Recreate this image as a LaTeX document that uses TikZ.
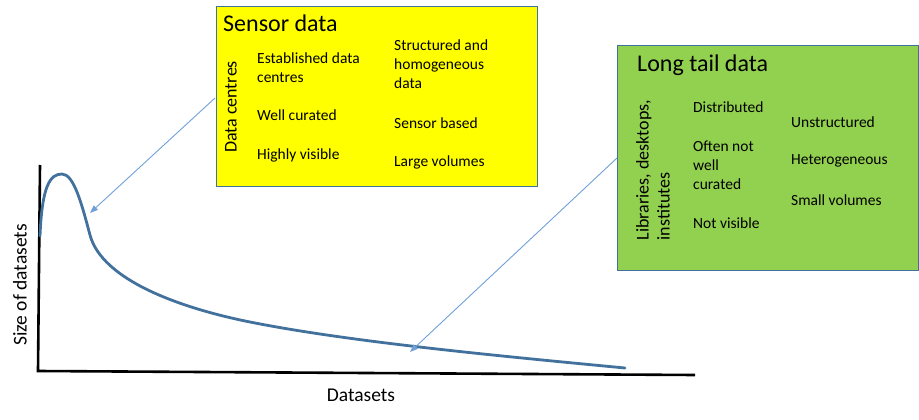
\documentclass[tikz,border=0pt]{standalone}
\usepackage{fontspec}
\setmainfont{Carlito}
\usetikzlibrary{arrows.meta}
\definecolor{boxborder}{HTML}{41719C}
\definecolor{curveblue}{HTML}{41719C}
\definecolor{arrowblue}{HTML}{6FA0D8}
\definecolor{sensoryellow}{HTML}{FFFF00}
\definecolor{tailgreen}{HTML}{92D050}
\tikzset{
  panel/.style={draw=boxborder, line width=1.3pt},
  title/.style={font=\fontsize{24}{28}\selectfont, anchor=west, inner sep=0pt},
  item/.style={font=\fontsize{15.5}{19}\selectfont, anchor=west, align=left, inner sep=0pt},
  side/.style={font=\fontsize{18}{21}\selectfont, rotate=90, align=left, inner sep=0pt},
  axislabel/.style={font=\fontsize{19.5}{23}\selectfont, inner sep=0pt},
  pointer/.style={draw=arrowblue, line width=0.9pt, -{Triangle[length=8pt,width=6pt]}},
  axisline/.style={draw=black, line width=2.6pt},
  curveline/.style={draw=curveblue, line width=2.8pt, line cap=round}
}
\begin{document}
\begin{tikzpicture}[x=1pt, y=-1pt]
\useasboundingbox (0,0) rectangle (919,420);

% axes
\coordinate (ytop) at (40,165);
\coordinate (origin) at (38,371);
\coordinate (xend) at (695,375);
\draw[axisline] (ytop) -- (origin) -- (xend);

% curve
\coordinate (cstart) at (40,236);
\coordinate (cpeak) at (62,174);
\coordinate (cdrop) at (90,235);
\coordinate (cknee) at (250,322);
\coordinate (cend) at (625,368);
\draw[curveline] (cstart) .. controls (42,186) and (50,174) .. (cpeak)
  .. controls (74,174) and (82,205) .. (cdrop)
  .. controls (102,280) and (180,308) .. (cknee)
  .. controls (350,342) and (500,356) .. (cend);

% axis labels
\node[axislabel, rotate=90] (ylab) at (20,285) {Size of datasets};
\node[axislabel] (xlab) at (361,395) {Datasets};

% sensor data panel
\node[panel, fill=sensoryellow, minimum width=321pt, minimum height=180pt, anchor=north west, inner sep=0pt] (sensor) at (216,6) {};
\node[title] (sensortitle) at (223,23) {Sensor data};
\node[side] (datacentres) at (231,107) {Data centres};
\node[item] (established) at (257,67.5) {Established data\\centres};
\node[item] (curated) at (257,115) {Well curated};
\node[item] (visible) at (257,155) {Highly visible};
\node[item] (structured) at (394,64) {Structured and\\homogeneous\\data};
\node[item] (sensorbased) at (394,123) {Sensor based};
\node[item] (large) at (394,162) {Large volumes};

% long tail panel
\node[panel, fill=tailgreen, minimum width=301pt, minimum height=225pt, anchor=north west, inner sep=0pt] (tail) at (617,45) {};
\node[title] (tailtitle) at (637,65) {Long tail data};
\node[side] (libraries) at (653,170) {Libraries, desktops,\\institutes};
\node[item] (distributed) at (693,107) {Distributed};
\node[item] (oftennot) at (693,165) {Often not\\well\\curated};
\node[item] (notvisible) at (693,223) {Not visible};
\node[item] (unstructured) at (791,122) {Unstructured};
\node[item] (hetero) at (791,161) {Heterogeneous};
\node[item] (small) at (791,200) {Small volumes};

% pointers
\coordinate (sensorstart) at (215,98);
\coordinate (peakpoint) at (90,213);
\coordinate (tailstart) at (617,158);
\coordinate (tailpoint) at (410,352);
\draw[pointer] (sensorstart) -- (peakpoint);
\draw[pointer] (tailstart) -- (tailpoint);
\end{tikzpicture}
\end{document}
